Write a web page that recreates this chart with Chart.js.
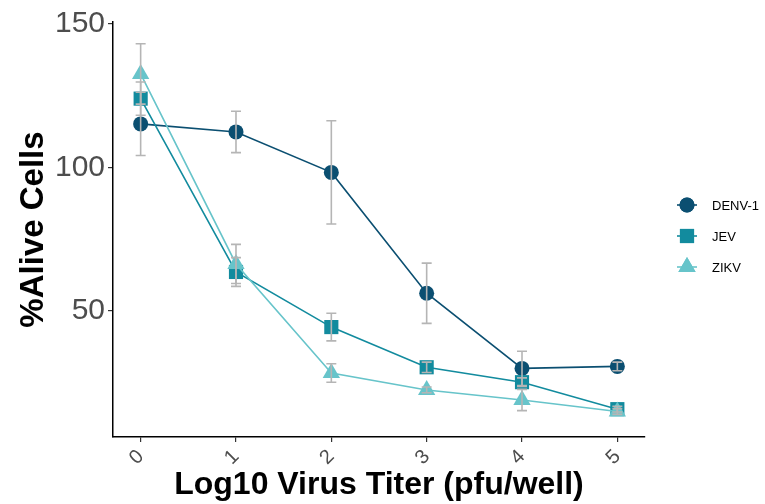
<!DOCTYPE html>
<html>
<head>
<meta charset="utf-8">
<script src="https://cdn.jsdelivr.net/npm/chart.js@4"></script>
<style>
  html, body { margin: 0; padding: 0; background: #fff; }
  #wrap { width: 765px; height: 504px; }
</style>
</head>
<body>
<div id="wrap"><canvas id="myChart" width="765" height="504"></canvas></div>
<script>
var titers = [0, 1, 2, 3, 4, 5];
var seriesNames = ["DENV-1", "JEV", "ZIKV"];
var denvMean = [115.2, 112.4, 98.3, 56.2, 30.0, 30.7];
var denvSd = [11.0, 7.2, 18.0, 10.5, 6.0, 1.5];
var jevMean = [124.0, 63.6, 44.4, 30.4, 25.2, 15.8];
var jevSd = [5.8, 5.0, 4.8, 1.8, 1.5, 1.0];
var zikvMean = [132.6, 66.4, 28.4, 22.5, 19.0, 15.0];
var zikvSd = [10.5, 6.8, 3.2, 1.0, 3.7, 1.0];
var yTicks = [50, 100, 150];

var colors = ["#0b4f71", "#128b9e", "#67c4ca"];
var shapes = ["circle", "rect", "triangle"];
var radii = [7.5, 10, 10];

function toPoints(means) {
  return titers.map(function (t, i) { return { x: t, y: means[i] }; });
}

var means = [denvMean, jevMean, zikvMean];
var sds = [denvSd, jevSd, zikvSd];

var datasets = seriesNames.map(function (name, k) {
  return {
    label: name,
    data: toPoints(means[k]),
    borderColor: colors[k],
    backgroundColor: colors[k],
    borderWidth: 1.6,
    pointStyle: shapes[k],
    pointRadius: radii[k],
    pointBorderWidth: 0,
    showLine: true,
    order: 3 - k,
  };
});

// error bars drawn on top, like the ggplot layer
var errorBars = {
  id: "errorBars",
  afterDatasetsDraw: function (chart) {
    var ctx = chart.ctx;
    var xs = chart.scales.x, ys = chart.scales.y;
    ctx.save();
    ctx.strokeStyle = "#b5b5b5";
    ctx.lineWidth = 1.6;
    for (var k = 0; k < means.length; k++) {
      for (var i = 0; i < titers.length; i++) {
        var px = xs.getPixelForValue(titers[i]);
        var top = ys.getPixelForValue(means[k][i] + sds[k][i]);
        var bot = ys.getPixelForValue(means[k][i] - sds[k][i]);
        ctx.beginPath();
        ctx.moveTo(px, top); ctx.lineTo(px, bot);
        ctx.moveTo(px - 5, top); ctx.lineTo(px + 5, top);
        ctx.moveTo(px - 5, bot); ctx.lineTo(px + 5, bot);
        ctx.stroke();
      }
    }
    ctx.restore();
  },
};

// ggplot-style legend: key line through the marker
var keyLegend = {
  id: "keyLegend",
  afterDraw: function (chart) {
    var ctx = chart.ctx;
    ctx.save();
    for (var k = 0; k < seriesNames.length; k++) {
      var cx = 687, cy = 205 + k * 31;
      ctx.strokeStyle = colors[k];
      ctx.lineWidth = 1.6;
      ctx.beginPath();
      ctx.moveTo(677, cy); ctx.lineTo(697, cy);
      ctx.stroke();
      ctx.fillStyle = colors[k];
      Chart.helpers.drawPoint(ctx, { pointStyle: shapes[k], radius: radii[k], borderWidth: 0 }, cx, cy);
      ctx.fill();
      ctx.fillStyle = "#000";
      ctx.font = "13px 'Liberation Sans', Arial, sans-serif";
      ctx.textBaseline = "middle";
      ctx.fillText(seriesNames[k], 712, cy + 1);
    }
    ctx.restore();
  },
};

new Chart(document.getElementById("myChart").getContext("2d"), {
  type: "scatter",
  data: { datasets: datasets },
  plugins: [errorBars, keyLegend],
  options: {
    responsive: false,
    animation: false,
    layout: { padding: { top: 22, right: 120, left: 0, bottom: 0 } },
    plugins: { legend: { display: false }, tooltip: { enabled: false } },
    scales: {
      x: {
        type: "linear",
        min: -0.29,
        max: 5.29,
        afterFit: function (s) { s.height = 67; },
        afterBuildTicks: function (s) { s.ticks = titers.map(function (v) { return { value: v }; }); },
        grid: { drawOnChartArea: false, drawTicks: true, tickLength: 5, color: "#333", lineWidth: 1.2 },
        border: { display: true, color: "#000", width: 1.5 },
        ticks: {
          minRotation: 45, maxRotation: 45, padding: 3,
          color: "#4d4d4d",
          font: { family: "'Liberation Sans', Arial, sans-serif", size: 20 },
        },
        title: {
          display: true,
          text: "Log10 Virus Titer (pfu/well)",
          color: "#000",
          padding: { top: 0, bottom: 0 },
          font: { family: "'Liberation Sans', Arial, sans-serif", size: 32, weight: "bold" },
        },
      },
      y: {
        min: 6.1,
        max: 150.7,
        afterFit: function (s) { s.width = 113; },
        afterBuildTicks: function (s) { s.ticks = yTicks.map(function (v) { return { value: v }; }); },
        grid: { drawOnChartArea: false, drawTicks: true, tickLength: 5, color: "#333", lineWidth: 1.2 },
        border: { display: true, color: "#000", width: 1.5 },
        ticks: {
          padding: 3,
          color: "#4d4d4d",
          font: { family: "'Liberation Sans', Arial, sans-serif", size: 30 },
        },
        title: {
          display: true,
          text: "%Alive Cells",
          color: "#000",
          padding: { top: 14, bottom: 0 },
          font: { family: "'Liberation Sans', Arial, sans-serif", size: 33, weight: "bold" },
        },
      },
    },
  },
});
</script>
</body>
</html>
